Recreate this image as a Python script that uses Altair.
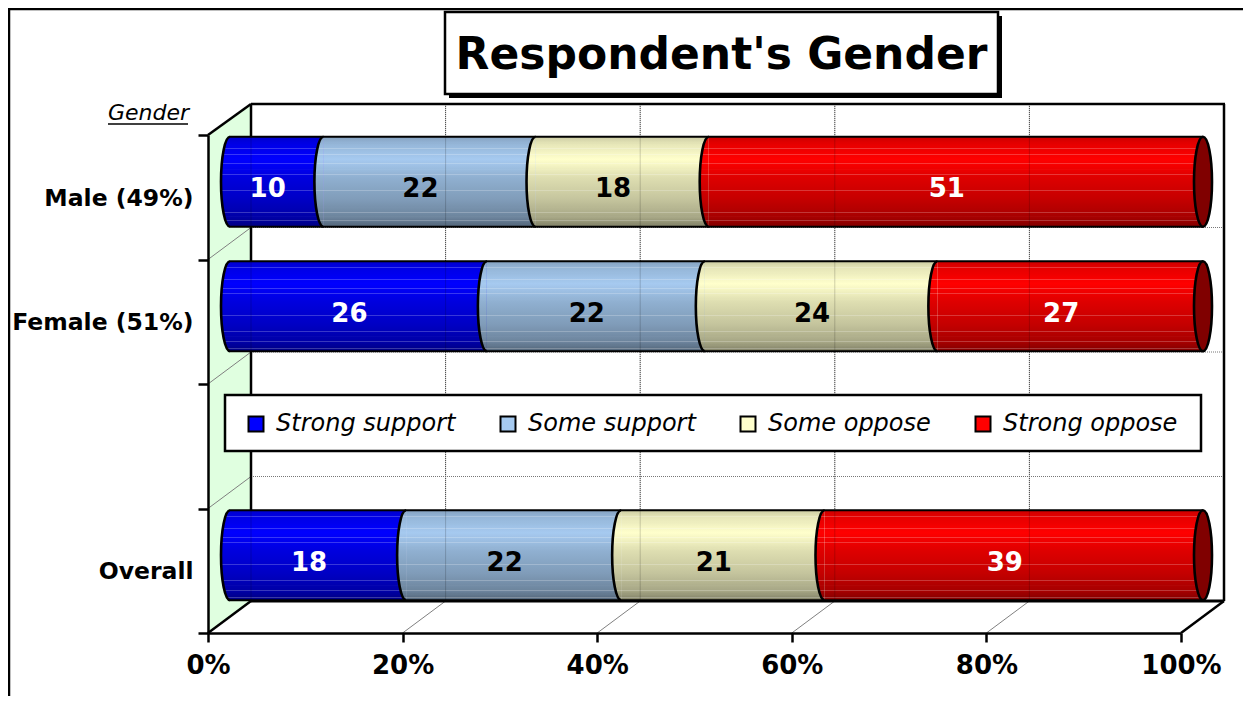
import altair as alt
import numpy as np
import pandas as pd

# ---- data ----
categories = ["Male (49%)", "Female (51%)", " ", "Overall"]
rows = ["Male (49%)", "Female (51%)", "Overall"]
series = ["Strong support", "Some support", "Some oppose", "Strong oppose"]
strong_support = [9.6, 26.4, 18.1]
some_support = [21.8, 22.4, 22.1]
some_oppose = [17.8, 23.9, 20.9]
strong_oppose = [50.8, 27.3, 38.9]
shown_labels = [[10, 26, 18], [22, 22, 22], [18, 24, 21], [51, 27, 39]]
legend_colors = ["#0000ff", "#a6caf0", "#ffffcc", "#ff0000"]
label_colors = ["white", "black", "black", "white"]
x_ticks = [0, 20, 40, 60, 80, 100]

FONT = "DejaVu Sans"
W, H = 973, 498
DX, DY = 43, 32          # depth of the 3-D box
BX = 22                  # bar depth offset
BAR_H = 90
BAR_Y = -15.5            # offset of the bar centre from band centre
RX = 9

# ---- long table ----
vals = np.array([strong_support, some_support, some_oppose, strong_oppose])
ends = vals.cumsum(axis=0)
starts = ends - vals
recs = []
for s, name in enumerate(series):
    for r, row in enumerate(rows):
        recs.append(dict(row=row, series=name, start=float(starts[s, r]), end=float(ends[s, r]),
                         mid=float((starts[s, r] + ends[s, r]) / 2), label=shown_labels[s][r],
                         zero=0.0))
df = pd.DataFrame(recs)
one = pd.DataFrame({"k": [0]})
tick_df = pd.DataFrame({"t": x_ticks})
cat_df = pd.DataFrame({"row": categories})


def shade(hex_color, f, white=0.0):
    c = [int(hex_color[i:i + 2], 16) for i in (1, 3, 5)]
    c = [v * f for v in c]
    c = [v + (255 - v) * white for v in c]
    return "#%02x%02x%02x" % tuple(int(round(min(255, v))) for v in c)


profile = [(0.0, 0.80), (0.08, 0.90), (0.25, 1.0), (0.45, 0.87), (0.7, 0.77), (0.9, 0.65), (1.0, 0.50)]
stripes = [0.07, 0.13, 0.20, 0.30, 0.36, 0.42, 0.60, 0.78, 0.84, 0.89, 0.93, 0.97]


def gradient(color):
    def base(t):
        return float(np.interp(t, [p[0] for p in profile], [p[1] for p in profile]))
    stops = []
    for t, f in profile:
        stops.append((t, shade(color, f)))
    for t in stripes:
        f = base(t)
        stops += [(t - 0.004, shade(color, f)), (t - 0.003, shade(color, f, 0.22)),
                  (t + 0.003, shade(color, f, 0.22)), (t + 0.004, shade(color, f))]
    stops.sort(key=lambda s: s[0])
    return alt.LinearGradient(gradient="linear", x1=0, y1=0, x2=0, y2=1,
                              stops=[alt.GradientStop(offset=o, color=c) for o, c in stops])


x_scale = alt.Scale(domain=[0, 100], nice=False, zero=False)
y_scale = alt.Scale(domain=categories, paddingInner=0, paddingOuter=0)
X = lambda f, **k: alt.X(f, type="quantitative", scale=x_scale, **k)
Y = lambda **k: alt.Y("row:N", scale=y_scale, **k)


def box(x, x2, y, y2, **mk):
    return alt.Chart(one).mark_rect(**mk).encode(x=alt.value(x), x2=alt.value(x2), y=alt.value(y), y2=alt.value(y2))


def hline(x, x2, y, **mk):
    return alt.Chart(one).mark_rule(**mk).encode(x=alt.value(x), x2=alt.value(x2), y=alt.value(y))


def vline(x, y, y2, **mk):
    return alt.Chart(one).mark_rule(**mk).encode(x=alt.value(x), y=alt.value(y), y2=alt.value(y2))


def pixel_path(path, **mk):
    # size=4 makes the custom symbol's path units equal to pixels
    return alt.Chart(one).mark_point(shape=path, size=4, **mk)


BLK = dict(color="black", strokeWidth=2.5)
layers = []

# flat bars come first: they carry the colour scale, the legend and the axes
flat = alt.Chart(df).mark_bar(size=BAR_H, xOffset=BX, x2Offset=BX, yOffset=BAR_Y).encode(
    x=alt.X("start:Q", scale=x_scale, axis=alt.Axis(
        values=x_ticks, labelExpr="datum.value + '%'", title=None, grid=False, zindex=1,
        labelFont=FONT, labelFontWeight="bold", labelFontSize=26, labelColor="black", labelPadding=10,
        tickColor="black", tickWidth=2.5, tickSize=9, domainColor="black", domainWidth=2.5,
        labelOverlap=False, labelFlush=False)),
    x2="end:Q",
    y=alt.Y("row:N", scale=y_scale, axis=alt.Axis(
        title="Gender", titleAngle=0, titleX=-60, titleY=-23, titleAlign="center", titleBaseline="middle",
        titleFont=FONT, titleFontStyle="italic", titleFontWeight="normal", titleFontSize=22, titleColor="black",
        grid=False, zindex=1, tickBand="extent",
        labelFont=FONT, labelFontWeight="bold", labelFontSize=23.5, labelColor="black", labelPadding=5, labelOffset=1,
        labelLimit=300, tickColor="black", tickWidth=2.5, tickSize=10, domainColor="black", domainWidth=2.5,
        labelOverlap=False)),
    color=alt.Color("series:N", scale=alt.Scale(domain=series, range=legend_colors), legend=alt.Legend(
        title=None, orient="none", legendX=36, legendY=277, direction="horizontal", columns=4,
        gridAlign="each", padding=0, columnPadding=40, symbolType="square", symbolSize=225,
        symbolStrokeColor="black", symbolStrokeWidth=2, symbolOpacity=1, labelOffset=8, labelLimit=400,
        labelFont=FONT, labelFontStyle="italic", labelFontSize=24, labelColor="black")),
)
layers.append(flat)

# outer frame
layers += [vline(-199, -127, 561, **BLK), hline(-200, 1035, -126, **BLK)]
# title box with shadow
layers += [box(241, 794, -119, -37, color="black"),
           box(237, 790, -123, -41, fill="white", stroke="black", strokeWidth=2.5)]
# back wall and left wall
layers.append(box(DX, W + DX, -DY + 1, H - DY, fill="white"))
layers.append(pixel_path(f"M0 0 L{DX} -{DY-1} L{DX} {H-DY} L0 {H} Z", filled=True, fill="#e0ffe0", opacity=1)
              .encode(x=alt.value(0), y=alt.value(0)))
# dotted back gridlines
GRID = dict(color="#555555", strokeWidth=1, strokeDash=[1, 1])
layers.append(alt.Chart(tick_df[(tick_df.t > 0) & (tick_df.t < 100)]).mark_rule(xOffset=DX, **GRID)
              .encode(x=X("t"), y=alt.value(-DY + 1), y2=alt.value(H - DY)))
layers.append(alt.Chart(cat_df.iloc[:-1]).mark_rule(yOffset=-DY, **{**GRID, "color": "#777777"})
              .encode(y=Y(bandPosition=1), x=alt.value(DX), x2=alt.value(W + DX)))
# thin diagonals on wall and floor
DIAG = f"M0 0 L{DX} -{DY}"
THIN = dict(stroke="#808080", strokeWidth=1, opacity=1, filled=False)
layers.append(alt.Chart(cat_df.iloc[:-1]).mark_point(shape=DIAG, size=4, **THIN)
              .encode(x=alt.value(0), y=Y(bandPosition=1)))
layers.append(alt.Chart(tick_df[(tick_df.t > 0) & (tick_df.t < 100)]).mark_point(shape=DIAG, size=4, **THIN)
              .encode(x=X("t"), y=alt.value(H)))
# box edges
layers += [vline(DX, -DY + 1, H - DY, **BLK), vline(W + DX, -DY + 1, H - DY, **BLK),
           hline(DX, W + DX + 1, -DY + 1, **BLK), hline(DX, W + DX, H - DY, color="black", strokeWidth=3)]
EDGE = dict(stroke="black", strokeWidth=2.5, opacity=1, filled=False)
layers.append(pixel_path(DIAG, **EDGE).encode(x=alt.value(0), y=alt.value(H)))
layers.append(pixel_path(DIAG, **EDGE).encode(x=alt.value(W), y=alt.value(H)))
layers.append(pixel_path(f"M0 0 L{DX} -{DY-1}", **EDGE).encode(x=alt.value(0), y=alt.value(0)))

# shaded cylinder segments
half = "M0 -1 A 0.2 1 0 0 0 0 1"
for name, col in zip(series, legend_colors):
    d = df[df.series == name]
    g = gradient(col)
    layers.append(alt.Chart(d).mark_bar(size=BAR_H, xOffset=BX, x2Offset=BX, yOffset=BAR_Y, fill=g)
                  .encode(x=X("start"), x2="end:Q", y=Y()))
    layers.append(alt.Chart(d).mark_point(shape=half, size=8100, xOffset=BX, yOffset=BAR_Y, fill=g,
                                          stroke="black", strokeWidth=2.6, opacity=1)
                  .encode(x=X("start"), y=Y()))
# top and bottom outlines, end cap
last = df[df.series == series[-1]]
for sign in (-1, 1):
    layers.append(alt.Chart(last).mark_rule(color="black", strokeWidth=2.2, xOffset=BX, x2Offset=BX,
                                            yOffset=BAR_Y + sign * BAR_H / 2)
                  .encode(x=X("zero"), x2="end:Q", y=Y()))
layers.append(alt.Chart(last).mark_point(shape="M0 -1 A 0.2 1 0 0 0 0 1 A 0.2 1 0 0 0 0 -1 Z", size=8100, xOffset=BX,
                                         yOffset=BAR_Y, fill="#800000", stroke="black", strokeWidth=2.6, opacity=1)
              .encode(x=X("end"), y=Y()))
# back structure faintly showing through the bars
layers.append(alt.Chart(tick_df[(tick_df.t < 100)]).mark_rule(xOffset=DX, color="black", strokeWidth=1, opacity=0.18)
              .encode(x=X("t"), y=alt.value(-DY + 1), y2=alt.value(H - DY)))
# data labels
for name, col in zip(series, label_colors):
    layers.append(alt.Chart(df[df.series == name]).mark_text(
        font=FONT, fontWeight="bold", fontSize=26, color=col, xOffset=BX - RX, yOffset=BAR_Y + 7.5)
        .encode(x=X("mid"), y=Y(), text="label:Q"))
# legend box and the underline of "Gender"
layers.append(box(17, 993, 260, 316, fill="white", stroke="black", strokeWidth=2.5))
layers.append(hline(-100, -20, -11, color="black", strokeWidth=1.5))

chart = alt.layer(*layers).properties(
    width=W, height=H,
    padding={"left": 200, "top": 127, "right": 62, "bottom": 63},
    autosize=alt.AutoSizeParams(type="none"),
    background="white",
    title=alt.TitleParams("Respondent's Gender", font=FONT, fontWeight="bold", fontSize=44, color="black",
                          anchor="middle", dx=27, offset=0, dy=106, baseline="alphabetic"),
).configure_view(stroke=None)

chart.save("out.html", embed_options={"renderer": "svg", "actions": False})
